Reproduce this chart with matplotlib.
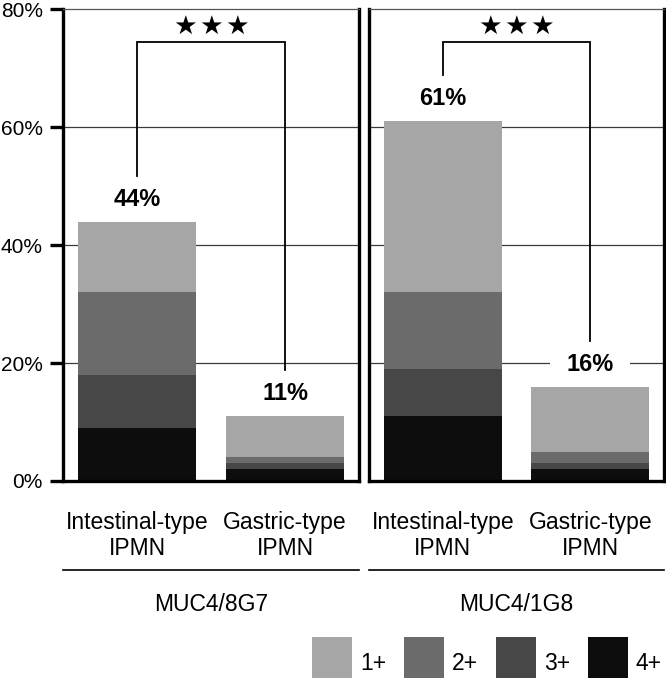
import matplotlib
matplotlib.use("Agg")
import matplotlib.pyplot as plt
from matplotlib.patches import Rectangle
import numpy as np

plt.rcParams['font.family'] = ['Liberation Sans', 'DejaVu Sans']

# ---- data ----
panels = ["MUC4/8G7", "MUC4/1G8"]
categories = ["Intestinal-type\nIPMN", "Gastric-type\nIPMN"]
levels = ["1+", "2+", "3+", "4+"]
level_colors = ["#a6a6a6", "#6b6b6b", "#474747", "#0d0d0d"]
# segment values (%) per panel, per category
seg_4 = [[9, 2], [11, 2]]
seg_3 = [[9, 1], [8, 1]]
seg_2 = [[14, 1], [13, 2]]
seg_1 = [[12, 7], [29, 11]]
totals = [[44, 11], [61, 16]]
yticks = [0, 20, 40, 60, 80]
ytick_labels = ["0%", "20%", "40%", "60%", "80%"]
star = "★"
n_stars = 3

W, H = 666, 678
fig = plt.figure(figsize=(W / 100, H / 100), dpi=100)

def fx(px):
    return px / W

def fy(py):
    return 1 - py / H

ax_bounds = [(63, 359), (369, 664)]
top_px, bot_px = 9.3, 481
axes = []
for (l, r) in ax_bounds:
    ax = fig.add_axes([fx(l), fy(bot_px), fx(r) - fx(l), fy(top_px) - fy(bot_px)])
    axes.append(ax)

x = np.arange(len(categories))
stack_order = [(seg_4, level_colors[3]), (seg_3, level_colors[2]),
               (seg_2, level_colors[1]), (seg_1, level_colors[0])]

for p, ax in enumerate(axes):
    ax.set_xlim(-0.5, 1.5)
    ax.set_ylim(0, 80)
    for gy in yticks[1:-1]:
        ax.axhline(gy, color="#3a3a3a", lw=0.9, zorder=0.5)
    bottom = np.zeros(len(categories))
    for seg, col in stack_order:
        vals = np.array(seg[p], dtype=float)
        ax.bar(x, vals, width=0.8, bottom=bottom, color=col, edgecolor="none", zorder=2)
        bottom += vals
    # value labels
    label_y = []
    for i, t in enumerate(totals[p]):
        ly = t + 3.8
        label_y.append(ly)
        ax.text(x[i], ly, f"{t}%", ha="center", va="center", fontsize=17,
                fontweight="bold", zorder=1.5,
                bbox=dict(boxstyle="square,pad=0.7", fc="white", ec="none"))
    # significance bracket
    top_b = 74.4
    ends = [ly + 4.0 for ly in label_y]
    ax.plot([x[0], x[0], x[1], x[1]], [ends[0], top_b, top_b, ends[1]],
            color="black", lw=1.3, zorder=3, solid_joinstyle="miter")
    for k in range(n_stars):
        ax.annotate(star, xy=((x[0] + x[1]) / 2, 77.0), xytext=((k - 1) * 18.7, 0),
                    textcoords="offset points", ha="center", va="center",
                    fontsize=19, family="DejaVu Sans", zorder=3)

    # spines
    for s in ["left", "right", "bottom"]:
        ax.spines[s].set_linewidth(2.4)
        ax.spines[s].set_color("black")
    ax.spines["top"].set_linewidth(0.9)
    ax.spines["top"].set_color("#555555")

    ax.set_xticks([])
    if p == 0:
        ax.set_yticks(yticks)
        ax.set_yticklabels(ytick_labels, fontsize=15)
        ax.tick_params(axis="y", length=9.5, width=2.4, pad=5, direction="out")
    else:
        ax.set_yticks([])

    # category labels
    for i, c in enumerate(categories):
        ax.text(x[i], -0.116, c, transform=ax.get_xaxis_transform(), ha="center",
                va="center", fontsize=16.5, linespacing=1.15, multialignment="center")
    # group line and title
    ax.plot([0, 1], [-0.1886, -0.1886], transform=ax.transAxes, color="black",
            lw=1.2, clip_on=False)
    ax.text(0.5, -0.2626, panels[p], transform=ax.transAxes, ha="center",
            va="center", fontsize=16.5)

# legend
box_x0 = 312
step = 92
for i, (lab, col) in enumerate(zip(levels, level_colors)):
    bx = box_x0 + i * step
    fig.add_artist(Rectangle((fx(bx), fy(678)), fx(40), fy(637) - fy(678),
                             transform=fig.transFigure, facecolor=col, edgecolor="none"))
    fig.text(fx(bx + 48), fy(663), lab, ha="left", va="center", fontsize=16.5)

fig.savefig("out.png", dpi=100)
